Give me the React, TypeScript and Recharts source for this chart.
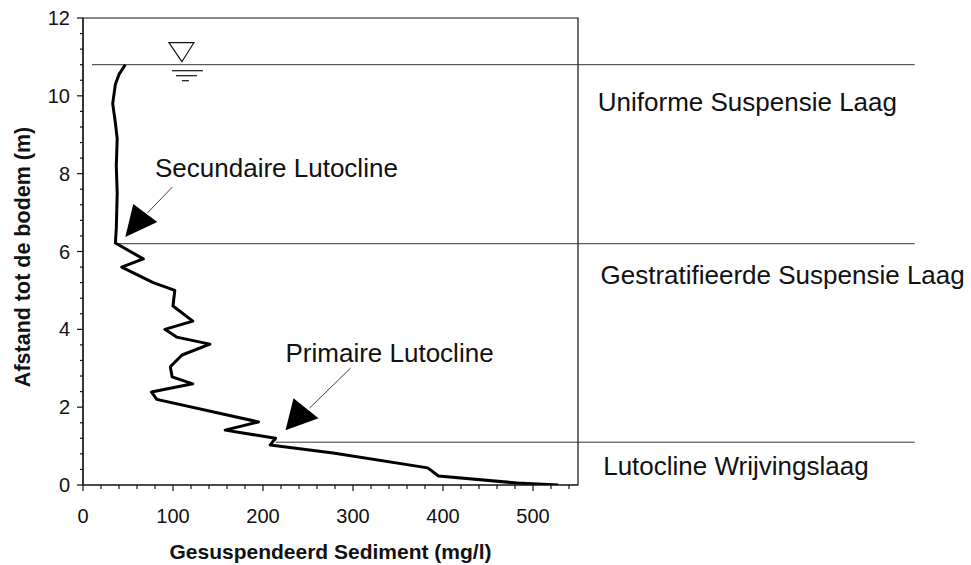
import React from "react";
import {
  LineChart,
  Line,
  XAxis,
  YAxis,
  ReferenceLine,
  ReferenceDot,
  ReferenceArea,
} from "recharts";

// profiel: concentratie (mg/l) tegen hoogte boven de bodem (m), van boven naar beneden
const CONC = [
  47, 40, 36, 33, 36, 38, 37, 38, 37, 36, 67, 43, 78, 102, 100, 122, 91, 104, 141, 110, 97,
  99, 122, 76, 82, 195, 158, 214, 208, 278, 383, 395, 483, 528,
];
const HEIGHT = [
  10.8, 10.55, 10.3, 9.8, 9.3, 8.9, 8.2, 7.5, 6.6, 6.22, 5.81, 5.6, 5.2, 5.0, 4.6, 4.21, 4.0,
  3.8, 3.62, 3.34, 3.04, 2.78, 2.6, 2.39, 2.2, 1.62, 1.41, 1.2, 1.03, 0.82, 0.44, 0.23, 0.05, 0,
];

const X_TICKS = [
  0, 20, 40, 60, 80, 100, 120, 140, 160, 180, 200, 220, 240, 260, 280, 300, 320, 340, 360, 380,
  400, 420, 440, 460, 480, 500, 520, 540,
];
const Y_TICKS = [
  0, 0.4, 0.8, 1.2, 1.6, 2, 2.4, 2.8, 3.2, 3.6, 4, 4.4, 4.8, 5.2, 5.6, 6, 6.4, 6.8, 7.2, 7.6, 8,
  8.4, 8.8, 9.2, 9.6, 10, 10.4, 10.8, 11.2, 11.6, 12,
];

// laaggrenzen (m) en waar de lijn begint (mg/l)
const BOUNDARIES = [10.8, 6.2, 1.1];
const BOUNDARY_START = [10, 38, 214];
const BOUNDARY_END = 924;

const LAYER_NAMES = ["Uniforme Suspensie Laag", "Gestratifieerde Suspensie Laag", "Lutocline Wrijvingslaag"];
const LAYER_NAME_POS = [
  { conc: 572, h: 9.6 },
  { conc: 575, h: 5.16 },
  { conc: 578, h: 0.26 },
];

const ARROW_LABELS = ["Secundaire Lutocline", "Primaire Lutocline"];
const ARROW_LABEL_POS = [
  { conc: 80, h: 7.91 },
  { conc: 225, h: 3.16 },
];
const ARROW_TIPS = [
  { conc: 47, h: 6.37 },
  { conc: 225, h: 1.41 },
];

const DATA = CONC.map((c, i) => ({ conc: c, h: HEIGHT[i] }));

const FONT = "'Liberation Sans', Arial, sans-serif";
const INK = "#111";

const XTick = (p: any) => {
  const v = p.payload.value;
  const major = v % 100 === 0;
  return (
    <g>
      <line x1={p.x} x2={p.x} y1={p.y} y2={p.y + (major ? 6 : 4)} stroke={INK} strokeWidth={1.2} />
      {major && (
        <text x={p.x} y={p.y + 38} textAnchor="middle" fontSize={20} fontFamily={FONT} fill={INK}>
          {v}
        </text>
      )}
    </g>
  );
};

const YTick = (p: any) => {
  const v = p.payload.value;
  const major = Math.abs(v / 2 - Math.round(v / 2)) < 1e-6;
  return (
    <g>
      <line x1={p.x - (major ? 6 : 3)} x2={p.x} y1={p.y} y2={p.y} stroke={INK} strokeWidth={1.2} />
      {major && (
        <text x={p.x - 13} y={p.y} dy="0.35em" textAnchor="end" fontSize={20} fontFamily={FONT} fill={INK}>
          {v}
        </text>
      )}
    </g>
  );
};

const textShape =
  (value: string, size: number, opts: { bold?: boolean; rotate?: boolean; anchor?: string } = {}) =>
  (p: any) =>
    (
      <text
        x={p.cx}
        y={p.cy}
        fontSize={size}
        fontFamily={FONT}
        fontWeight={opts.bold ? "bold" : "normal"}
        textAnchor={opts.anchor || "start"}
        fill={INK}
        transform={opts.rotate ? `rotate(-90 ${p.cx} ${p.cy})` : undefined}
      >
        {value}
      </text>
    );

const arrowShape = (tri: number[][], shaft: number[][]) => (p: any) => {
  const { cx, cy } = p;
  const pts = [[0, 0], ...tri].map(([dx, dy]) => `${cx + dx},${cy + dy}`).join(" ");
  return (
    <g>
      <line
        x1={cx + shaft[0][0]}
        y1={cy + shaft[0][1]}
        x2={cx + shaft[1][0]}
        y2={cy + shaft[1][1]}
        stroke="#444"
        strokeWidth={1}
      />
      <polygon points={pts} fill="#000" />
    </g>
  );
};

const waterShape = (p: any) => {
  const { cx, cy } = p;
  return (
    <g stroke={INK} strokeWidth={1.2} fill="none">
      <polygon points={`${cx - 14},${cy - 22} ${cx + 11},${cy - 22} ${cx - 1},${cy - 3}`} />
      <line x1={cx - 11} x2={cx + 20} y1={cy + 6} y2={cy + 6} />
      <line x1={cx - 7} x2={cx + 14} y1={cy + 11} y2={cy + 11} />
      <line x1={cx - 1} x2={cx + 6} y1={cy + 16} y2={cy + 16} />
    </g>
  );
};

const ARROW_GEOM = [
  { tri: [[8, -33], [32, -15]], shaft: [[22, -24], [47, -50]] },
  { tri: [[8, -32], [33, -12]], shaft: [[24, -22], [65, -62]] },
];

export default function App() {
  return (
    <div style={{ position: "absolute", left: 0, top: 0, background: "#fff" }}>
      <LineChart
        width={971}
        height={565}
        data={DATA}
        margin={{ top: 18, right: 393, bottom: 50, left: 23 }}
      >
        <XAxis
          type="number"
          dataKey="conc"
          domain={[0, 550]}
          ticks={X_TICKS}
          interval={0}
          tickSize={0}
          tickMargin={0}
          tickLine={false}
          tick={XTick}
          axisLine={{ stroke: INK, strokeWidth: 1.2 }}
          height={30}
          allowDataOverflow
        />
        <YAxis
          type="number"
          dataKey="h"
          domain={[0, 12]}
          ticks={Y_TICKS}
          interval={0}
          tickSize={0}
          tickMargin={0}
          tickLine={false}
          tick={YTick}
          axisLine={{ stroke: INK, strokeWidth: 1.2 }}
          width={60}
          allowDataOverflow
        />
        <ReferenceArea x1={0} x2={550} y1={0} y2={12} fill="none" stroke={INK} strokeWidth={1.2} />
        {BOUNDARIES.map((b, i) => (
          <ReferenceLine
            key={"b" + i}
            segment={[
              { x: BOUNDARY_START[i], y: b },
              { x: BOUNDARY_END, y: b },
            ]}
            stroke="#333"
            strokeWidth={1}
            ifOverflow="visible"
          />
        ))}
        <Line
          type="linear"
          dataKey="h"
          stroke="#000"
          strokeWidth={3}
          strokeLinejoin="round"
          dot={false}
          isAnimationActive={false}
        />
        <ReferenceDot x={111} y={10.8} r={0} ifOverflow="visible" shape={waterShape} />
        {LAYER_NAMES.map((t, i) => (
          <ReferenceDot
            key={"l" + i}
            x={LAYER_NAME_POS[i].conc}
            y={LAYER_NAME_POS[i].h}
            ifOverflow="visible"
            shape={textShape(t, 26)}
          />
        ))}
        {ARROW_LABELS.map((t, i) => (
          <ReferenceDot
            key={"a" + i}
            x={ARROW_LABEL_POS[i].conc}
            y={ARROW_LABEL_POS[i].h}
            ifOverflow="visible"
            shape={textShape(t, 26)}
          />
        ))}
        {ARROW_TIPS.map((tip, i) => (
          <ReferenceDot
            key={"t" + i}
            x={tip.conc}
            y={tip.h}
            ifOverflow="visible"
            shape={arrowShape(ARROW_GEOM[i].tri, ARROW_GEOM[i].shaft)}
          />
        ))}
        <ReferenceDot
          x={275}
          y={-1.9}
          ifOverflow="visible"
          shape={textShape("Gesuspendeerd Sediment (mg/l)", 21, { bold: true, anchor: "middle" })}
        />
        <ReferenceDot
          x={-59}
          y={5.86}
          ifOverflow="visible"
          shape={textShape("Afstand tot de bodem (m)", 21.5, { bold: true, anchor: "middle", rotate: true })}
        />
      </LineChart>
    </div>
  );
}
